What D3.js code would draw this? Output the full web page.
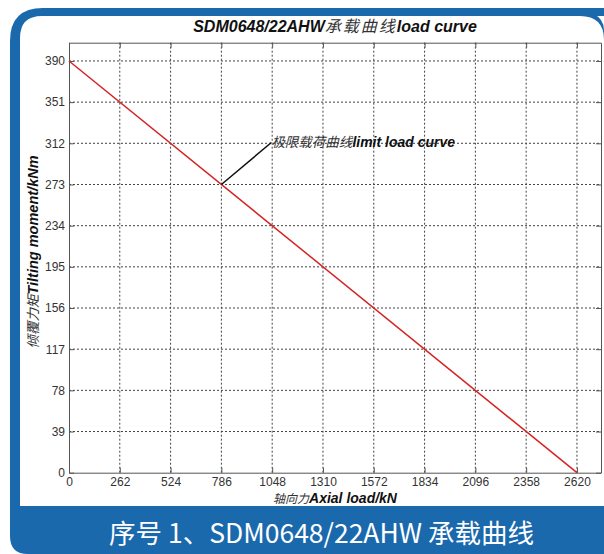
<!DOCTYPE html>
<html><head><meta charset="utf-8">
<script src="https://cdn.jsdelivr.net/npm/d3@7/dist/d3.min.js"></script>
<style>html,body{margin:0;padding:0;background:#fff;}svg{display:block;}</style>
</head><body>
<script>
// ---- data ----
const xTicks = [0, 262, 524, 786, 1048, 1310, 1572, 1834, 2096, 2358, 2620];
const yTicks = [0, 39, 78, 117, 156, 195, 234, 273, 312, 351, 390];
const curveX = [0, 2620];
const curveY = [390, 0];
const annotPoint = [786, 273];
const titleParts = [["SDM0648/22AHW", "lat"], ["承载曲线", "cjk"], ["load curve", "lat"]];
const xLabelParts = [["轴向力", "cjk"], ["Axial load/kN", "lat"]];
const yLabelParts = [["倾覆力矩", "cjk"], ["Tilting moment/kNm", "lat"]];
const annotParts = [["极限载荷曲线", "cjk"], ["limit load curve", "lat"]];
const caption = "序号 1、SDM0648/22AHW 承载曲线";

const W = 604, H = 554;
const blue = "#1a69ad";
const svg = d3.select("body").append("svg").attr("width", W).attr("height", H);

// frame
svg.append("path").attr("fill", blue)
  .attr("d", "M10,41 Q10,8 43,8 L640,8 L640,554 L28,554 Q10,554 10,536 Z");
svg.append("path").attr("fill", "#fff")
  .attr("d", "M20,38 Q20,16 42,16 L640,16 L640,506 L20,506 Z");
// right top curve of blue bar
svg.append("path").attr("fill", blue)
  .attr("d", "M560,8 Q604,8 604,30 L604,40 Q604,16 580,16 L560,16 Z");

const L = 69, R = 601, T = 42.7, B = 472.7;
const x = d3.scaleLinear().domain([0, 2744]).range([L, R]);
const y = d3.scaleLinear().domain([0, 407.3]).range([B, T]);

const g = svg.append("g");
// grid
g.append("g").selectAll("line").data(xTicks.filter(d => d > 0)).join("line")
  .attr("x1", d => x(d)).attr("x2", d => x(d)).attr("y1", T).attr("y2", B)
  .attr("stroke", "#444").attr("stroke-width", 1).attr("stroke-dasharray", "2,2");
g.append("g").selectAll("line").data(yTicks.filter(d => d > 0)).join("line")
  .attr("y1", d => y(d)).attr("y2", d => y(d)).attr("x1", L).attr("x2", R)
  .attr("stroke", "#444").attr("stroke-width", 1).attr("stroke-dasharray", "2,2");

function styleAxis(sel, labels) {
  sel.select(".domain").attr("stroke", "#555");
  sel.selectAll(".tick line").attr("stroke", "#555");
  sel.selectAll(".tick text").attr("fill", "#333")
    .style("font-family", "'Liberation Sans', Arial, sans-serif").style("font-size", "12px");
  if (!labels) sel.selectAll(".tick text").remove();
}
const ax = d3.axisBottom(x).tickValues(xTicks).tickSizeInner(-5).tickSizeOuter(0).tickPadding(5).tickFormat(d3.format("d"));
g.append("g").attr("transform", `translate(0,${B})`).call(ax).call(s => styleAxis(s, true));
const axT = d3.axisTop(x).tickValues(xTicks).tickSizeInner(-5).tickSizeOuter(0);
g.append("g").attr("transform", `translate(0,${T})`).call(axT).call(s => styleAxis(s, false));
const ay = d3.axisLeft(y).tickValues(yTicks).tickSizeInner(-5).tickSizeOuter(0).tickPadding(4).tickFormat(d3.format("d"));
g.append("g").attr("transform", `translate(${L},0)`).call(ay).call(s => styleAxis(s, true));
const ayR = d3.axisRight(y).tickValues(yTicks).tickSizeInner(-5).tickSizeOuter(0);
g.append("g").attr("transform", `translate(${R},0)`).call(ayR).call(s => styleAxis(s, false));
g.selectAll(".domain").attr("fill", "none");

// curve
const line = d3.line().x(d => x(d[0])).y(d => y(d[1]));
g.append("path").datum(curveX.map((v, i) => [v, curveY[i]]))
  .attr("d", line).attr("fill", "none").attr("stroke", "#d42424").attr("stroke-width", 1.5);

// annotation
const ax0 = x(annotPoint[0]), ay0 = y(annotPoint[1]);
g.append("line").attr("x1", ax0).attr("y1", ay0).attr("x2", ax0 + 50).attr("y2", ay0 - 42)
  .attr("stroke", "#111").attr("stroke-width", 1.5);

function richText(parent, parts, latSize, cjkSize, cjkSpacing) {
  const t = parent.append("text").style("font-style", "italic");
  parts.forEach(([s, k]) => {
    const ts = t.append("tspan").text(s);
    if (k === "lat") ts.style("font-family", "'Liberation Sans', Arial, sans-serif").style("font-weight", "bold")
      .style("font-size", latSize + "px").attr("fill", "#111");
    else ts.style("font-family", "'Noto Sans CJK SC', sans-serif").style("font-weight", "normal")
      .style("font-size", cjkSize + "px").attr("fill", "#333").style("letter-spacing", cjkSpacing + "px");
  });
  return t;
}
richText(svg, annotParts, 14, 13.5, 0).attr("x", ax0 + 50).attr("y", ay0 - 37);
richText(svg, titleParts, 16, 16, 2).attr("x", 335).attr("y", 32).attr("text-anchor", "middle");
richText(svg, xLabelParts, 14, 12, 0).attr("x", 335).attr("y", 503).attr("text-anchor", "middle");
richText(svg, yLabelParts, 14.5, 13.5, 0).attr("text-anchor", "middle")
  .attr("transform", "translate(38,252) rotate(-90)");

// caption
svg.append("text").attr("x", 321.5).attr("y", 543).attr("text-anchor", "middle")
  .attr("fill", "#fff").style("font-family", "'Noto Sans CJK SC', sans-serif").style("font-size", "26.5px")
  .text(caption);
</script>
</body></html>
